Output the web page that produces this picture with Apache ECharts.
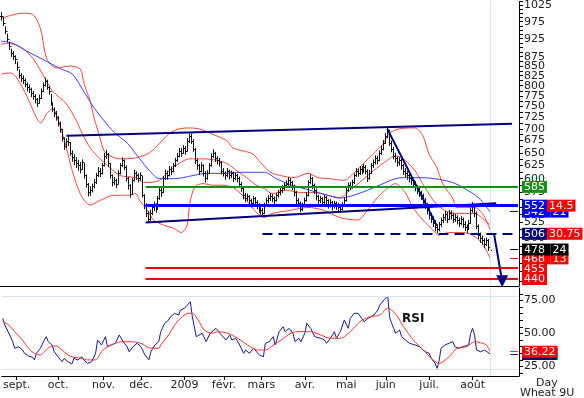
<!DOCTYPE html>
<html>
<head>
<meta charset="utf-8">
<script src="https://cdn.jsdelivr.net/npm/echarts@6/dist/echarts.min.js"></script>
<style>
  html, body { margin: 0; background: #fff; }
  #main { width: 584px; height: 398px; }
</style>
</head>
<body>
<div id="main"></div>
<script>
// CBOT wheat, contract 9U, daily bars Aug 2008 - Aug 2009
const holidays = ['2008-09-01', '2008-11-27', '2008-12-25', '2009-01-01', '2009-01-19',
  '2009-02-16', '2009-04-10', '2009-05-25', '2009-07-03', '2009-09-07'];
const moisFr = ['janv.', 'févr.', 'mars', 'avr.', 'mai', 'juin', 'juil.', 'août', 'sept.', 'oct.', 'nov.', 'déc.'];

const closes = [991,970,947,924,904,885,876,868,847,827,
  820,815,804,797,792,782,775,768,758,770,
  787,802,812,797,787,758,745,735,727,713,
  700,681,664,675,673,650,641,635,629,625,
  619,631,606,591,575,579,586,593,606,615,
  611,625,644,648,629,606,593,597,591,611,
  625,635,623,601,588,573,597,611,606,601,
  606,570,553,540,530,540,549,553,547,565,
  579,575,601,611,606,619,615,625,635,644,
  654,650,660,654,675,685,675,658,635,625,
  615,625,611,601,611,625,644,650,639,635,
  631,615,611,606,615,606,610,601,606,601,
  591,583,570,565,568,561,556,565,558,553,
  547,544,540,553,561,565,568,565,561,570,
  575,579,583,588,591,597,593,586,575,561,
  556,547,553,561,570,593,601,588,579,568,
  561,565,558,567,561,554,558,551,556,553,
  549,547,554,561,579,588,586,593,606,615,
  611,619,615,623,615,601,611,625,631,639,
  635,650,658,671,685,696,671,658,644,639,
  631,635,625,615,611,606,601,597,591,584,
  579,575,570,561,553,544,536,530,524,517,
  514,521,528,533,538,530,540,536,530,533,
  528,524,530,522,517,514,524,544,553,540,
  519,504,499,496,491,496,486,481];

const highs = [1004,989,961,940,916,897,890,879,862,841,
  831,826,818,808,803,795,787,779,770,778,
  793,808,820,815,800,780,760,748,740,728,
  716,700,682,680,686,672,655,647,641,636,
  632,637,630,608,592,586,591,599,611,622,
  620,630,650,656,650,630,608,603,600,616,
  630,641,637,625,603,590,601,617,614,610,
  612,605,572,556,543,545,554,559,556,569,
  584,583,605,617,615,624,623,630,640,650,
  660,660,666,664,680,693,690,678,660,638,
  628,631,627,614,616,630,649,657,652,643,
  640,633,620,614,620,617,615,613,611,609,
  604,594,586,574,573,570,564,569,567,561,
  556,551,548,557,566,570,574,572,568,574,
  580,584,588,593,597,603,601,596,589,578,
  565,559,557,566,575,597,608,603,591,582,
  571,569,567,571,569,563,563,560,560,559,
  557,553,558,566,583,593,594,598,610,620,
  619,624,624,628,626,618,616,630,637,645,
  644,655,665,676,691,704,698,675,662,650,
  643,641,638,628,620,615,610,605,600,595,
  588,583,578,573,565,557,548,540,534,528,
  521,525,532,538,543,541,545,544,540,538,
  536,532,534,532,526,521,528,549,558,555,
  542,521,508,503,499,500,498,490];

const lows = [978,962,938,915,893,874,866,855,838,818,
  809,804,796,786,782,772,766,757,749,757,
  768,785,798,790,778,752,738,726,718,705,
  692,673,656,660,664,644,632,626,620,615,
  610,617,600,584,568,569,575,582,590,603,
  603,608,623,638,622,600,586,588,583,590,
  608,622,616,595,580,566,572,595,598,593,
  596,566,546,533,524,527,536,543,540,546,
  562,567,574,598,598,604,607,612,622,632,
  641,642,648,646,652,670,668,652,628,617,
  607,612,604,593,598,609,623,640,632,627,
  623,608,604,598,603,599,601,594,597,593,
  584,576,563,558,560,554,549,553,551,546,
  540,537,533,538,550,556,560,558,554,559,
  566,570,574,579,583,587,585,579,568,555,
  549,541,543,550,559,568,590,581,572,561,
  554,556,551,555,554,547,549,544,547,545,
  542,540,544,551,559,576,579,582,590,603,
  604,607,608,611,608,594,598,609,620,627,
  627,633,646,655,668,680,664,651,637,631,
  623,625,617,607,603,598,593,589,583,577,
  572,567,562,554,546,537,529,523,517,510,
  507,510,517,523,527,523,528,529,523,525,
  521,517,520,515,510,507,512,522,540,533,
  513,498,492,489,484,487,480,475];

// indicator lines: [session index, value]
const maBlue = [[0,918],[6,912],[13,890],[21,868],[30,843],[36,829],[41,792],[47,747],[52,718],[57,693],
  [64,669],[68,648],[70,638],[75,615],[80,600],[87,600],[92,602],[97,606],[104,610],[112,610],
  [121,612],[129,612],[133,612],[139,600],[147,588],[156,579],[165,570],[171,565],[178,570],[185,579],
  [191,588],[199,600],[203,602],[211,602],[219,600],[228,593],[234,582],[241,566],[247,541]];
const bbUpper = [[0,985],[11,1001],[16,997],[20,953],[23,871],[28,845],[35,850],[40,842],[42,804],[45,763],
  [47,724],[50,681],[52,654],[55,644],[60,638],[68,640],[75,650],[80,669],[85,690],[90,700],
  [95,702],[100,700],[106,690],[111,681],[114,675],[117,660],[122,654],[127,648],[131,631],[136,612],
  [141,606],[148,602],[155,610],[160,602],[166,600],[173,597],[178,610],[183,629],[188,648],[193,669],
  [196,690],[201,700],[209,702],[213,685],[216,648],[220,621],[223,591],[228,565],[230,549],[234,549],
  [239,549],[243,539],[247,512]];
const bbMiddle = [[0,909],[3,912],[10,901],[16,871],[21,829],[26,787],[33,756],[38,718],[41,690],[45,660],
  [50,638],[55,621],[60,606],[68,602],[72,593],[75,593],[80,597],[85,615],[90,629],[95,638],
  [102,638],[109,635],[114,629],[119,615],[124,602],[129,588],[133,582],[137,573],[144,579],[151,575],
  [158,575],[165,570],[171,566],[176,579],[181,593],[188,615],[195,635],[199,644],[204,635],[209,615],
  [214,584],[219,558],[224,544],[229,539],[234,539],[239,539],[244,528],[247,520]];
const bbLower = [[0,829],[5,832],[8,819],[13,775],[18,724],[20,713],[23,733],[26,745],[29,718],[31,690],
  [33,660],[36,615],[40,573],[45,553],[50,561],[57,570],[64,570],[68,573],[70,561],[74,544],
  [77,528],[82,520],[87,515],[91,508],[94,520],[95,549],[97,579],[99,588],[102,591],[107,588],
  [112,588],[117,584],[121,573],[124,561],[128,544],[133,532],[137,539],[146,544],[155,549],[163,544],
  [171,532],[180,528],[185,544],[190,566],[195,582],[199,591],[204,575],[208,549],[213,528],[218,512],
  [221,504],[226,508],[233,508],[238,504],[243,491],[247,469]];

const rsi = [[0,61.5],[1,56.4],[3,50.4],[5,43.8],[6,38.8],[8,40],[10,37.5],[11,35],[13,33],[15,32],
  [16,30],[17,35],[19,38.8],[21,45],[22,47.6],[23,43.8],[25,41.3],[26,36.2],[28,32.4],[30,28.6],
  [31,31.2],[33,28.6],[35,26.9],[36,31.2],[38,29.9],[40,32.4],[41,30],[43,27.4],[45,28.6],[47,35],
  [48,45],[50,41.3],[52,47.6],[53,40],[55,41.3],[57,42.6],[59,48.9],[61,43.8],[63,40],[64,36.2],
  [66,40],[68,42.6],[70,40],[72,33.7],[74,30],[75,36.2],[77,41.3],[79,43.8],[80,51.4],[82,57.7],
  [84,60.2],[85,62.7],[87,65.3],[89,64],[90,67.8],[92,69.1],[95,74.1],[96,62.7],[97,64],[98,47.6],
  [99,48.9],[101,50.2],[102,48.9],[103,43.8],[105,50.2],[106,51.4],[108,53.9],[110,50.2],[111,48.9],[113,45.1],
  [115,48.9],[116,45.1],[118,46.4],[120,41.3],[122,35],[123,37.5],[125,35],[127,38.8],[128,37.5],[130,33.7],
  [132,32.4],[133,42.6],[135,43.8],[137,47.6],[138,41.3],[140,51.4],[142,55.2],[143,51.4],[145,53.9],[147,50.2],
  [148,43.8],[150,46.4],[151,43.8],[153,50.2],[154,57.7],[156,53.9],[158,47.6],[159,46.4],[161,46.4],[163,45.1],
  [164,42.6],[166,46.4],[168,51.4],[169,46.4],[171,51.4],[173,60.2],[175,53.9],[176,61.5],[178,65.3],[180,65.3],
  [181,64],[183,58.9],[185,61.5],[186,61.5],[188,64],[190,67.8],[191,71.6],[193,75.4],[195,78.4],[196,62],
  [197,57.7],[198,53.9],[199,50.2],[201,52.7],[202,47.6],[204,45.1],[206,42.6],[207,41.3],[209,41.3],[211,40],
  [212,38.8],[214,36.2],[216,35],[217,31.2],[219,27.4],[220,23.6],[221,29],[222,38.8],[224,41.3],[226,42.6],
  [228,43.8],[229,40],[231,38.8],[233,40],[234,38.8],[236,41.3],[237,50],[238,53.9],[239,48.9],[240,37.5],
  [242,36.2],[244,37.5],[245,36.2],[247,34.4]];
const rsiMa = [[0,59],[3,56.4],[6,51.4],[10,45],[13,38.8],[16,35],[19,33.7],[21,36.2],[25,40.5],[27,40.5],
  [30,37.5],[33,33.7],[36,32],[40,31.2],[43,30],[47,30],[50,36.2],[53,40],[57,42.6],[60,43.8],
  [65,43.8],[70,42.6],[75,38.8],[79,38.8],[80,41.3],[84,48.9],[87,56.4],[90,61.5],[94,65.3],[96,65.3],
  [99,60.2],[102,52.7],[106,50.2],[109,51.4],[114,50.2],[119,46.4],[124,41.3],[129,37.5],[133,37.5],[136,40],
  [141,45],[146,50.2],[149,51.4],[156,51.4],[161,48.9],[166,46.4],[171,46.4],[176,51.4],[181,59],[186,62.7],
  [191,64],[195,69.1],[197,67.8],[200,62.7],[203,55.2],[208,45.1],[213,37.5],[218,30],[221,27.4],[223,28.6],
  [227,33.7],[230,38.8],[235,40],[239,43.8],[242,43],[245,41.3],[247,36.22]];

// drawn annotations: [session index, price]
const channelTop = [[33, 685], [258, 711]];
const channelBottom = [[73, 524], [250, 556]];
const downTrend = [[195, 700], [220, 519]];
const arrowDown = [[249, 504], [253, 437]];

const priceLabels = [1025, 975, 925, 875, 850, 825, 800, 775, 750, 725, 700, 675, 650, 625, 600, 575, 550, 525, 500, 475, 450];
const rsiLabels = [25, 50, 75];

// trading sessions
const dates = [];
let day = new Date(Date.UTC(2008, 7, 21));
while (dates.length < 262) {
  const wd = day.getUTCDay();
  const s = day.toISOString().slice(0, 10);
  if (wd !== 0 && wd !== 6 && holidays.indexOf(s) < 0) dates.push(s);
  day = new Date(day.getTime() + 86400000);
}
const lastBar = closes.length - 1;
const monthStart = i => i > 0 && i <= lastBar && dates[i].slice(5, 7) !== dates[i - 1].slice(5, 7);
const monthLabel = s => { const m = +s.slice(5, 7); return m === 1 ? s.slice(0, 4) : moisFr[m - 1]; };

const L = Math.log;
const logPairs = arr => arr.map(p => [p[0], L(p[1])]);
const font = 'DejaVu Sans';
const last = dates.length - 1;

const priceTicks = [];
for (let v = 437.5; v <= 1037.5; v += 12.5) priceTicks.push(L(v));
const rsiTicks = [];
for (let v = 20; v <= 80; v += 5) rsiTicks.push(v);

const box = bg => ({ backgroundColor: bg, color: '#fff', fontFamily: font, fontSize: 11, padding: [1, 2, 0, 2], lineHeight: 12 });
const rich = { g: box('#17901a'), b: box('#0000ff'), n: box('#000080'), k: box('#000'), r: box('#ff0000') };

function seg(a, b, color, width, type) {
  return [{ coord: [a[0], L(a[1])], lineStyle: { color: color, width: width, type: type || 'solid' } },
          { coord: [b[0], L(b[1])] }];
}
function level(p, from, color, width, text, type) {
  return [{ coord: [from, L(p)], lineStyle: { color: color, width: width, type: type || 'solid' },
            label: { show: !!text, position: 'end', distance: 4, formatter: text, rich: rich } },
          { coord: [last, L(p)] }];
}

const bars = closes.map((c, i) => [i, L(highs[i]), L(lows[i]), L(c), L(i ? closes[i - 1] : c)]);

function renderBar(params, api) {
  const i = api.value(0);
  const h = api.coord([i, api.value(1)]);
  const l = api.coord([i, api.value(2)]);
  const c = api.coord([i, api.value(3)]);
  const o = api.coord([i, api.value(4)]);
  const x = Math.round(h[0]) + 0.5;
  const st = { stroke: '#111', lineWidth: 1 };
  return { type: 'group', children: [
    { type: 'line', shape: { x1: x, y1: h[1], x2: x, y2: l[1] }, style: st },
    { type: 'line', shape: { x1: x, y1: Math.round(c[1]) + 0.5, x2: x + 1.5, y2: Math.round(c[1]) + 0.5 }, style: st },
    { type: 'line', shape: { x1: x - 1.5, y1: Math.round(o[1]) + 0.5, x2: x, y2: Math.round(o[1]) + 0.5 }, style: st }
  ] };
}

const thinLine = (name, data, color, xi, yi, extra) => Object.assign({
  name: name, type: 'line', data: data, xAxisIndex: xi, yAxisIndex: yi, symbol: 'none',
  smooth: 0.3, connectNulls: true, lineStyle: { color: color, width: 1 }, z: 2, silent: true
}, extra || {});

const axisText = { color: '#222', fontFamily: font, fontSize: 11 };
const paleLine = { color: '#d6e4ef', width: 1, type: 'solid' };

const chart = echarts.init(document.getElementById('main'));
chart.setOption({
  animation: false,
  backgroundColor: '#fff',
  grid: [
    { left: 0, right: 65, top: 0, height: 286 },
    { left: 0, right: 65, top: 288, height: 88 }
  ],
  xAxis: [
    { type: 'category', gridIndex: 0, data: dates, boundaryGap: true,
      axisLine: { show: true, lineStyle: { color: '#000' } }, axisTick: { show: false },
      axisLabel: { show: false }, splitLine: { show: false } },
    { type: 'category', gridIndex: 1, data: dates, boundaryGap: true,
      axisLine: { show: true, lineStyle: { color: '#000' } },
      axisTick: { show: true, alignWithLabel: true, length: 4, interval: i => monthStart(i), lineStyle: { color: '#000' } },
      axisLabel: Object.assign({ interval: i => monthStart(i), margin: 4, formatter: monthLabel }, axisText),
      splitLine: { show: false } }
  ],
  yAxis: [
    { type: 'value', gridIndex: 0, position: 'right', min: L(430.6), max: L(1038.3),
      axisLine: { show: true, lineStyle: { color: '#000' } },
      axisTick: { show: true, customValues: priceTicks, length: 4, lineStyle: { color: '#000' } },
      axisLabel: Object.assign({ customValues: priceLabels.map(L), margin: 5,
        formatter: v => String(Math.round(Math.exp(v))) }, axisText),
      splitLine: { show: false } },
    { type: 'value', gridIndex: 1, position: 'right', min: 17.8, max: 84.5,
      axisLine: { show: true, lineStyle: { color: '#000' } },
      axisTick: { show: true, customValues: rsiTicks, length: 4, lineStyle: { color: '#000' } },
      axisLabel: Object.assign({ customValues: rsiLabels, margin: 5, formatter: v => v.toFixed(2) }, axisText),
      splitLine: { show: false } }
  ],
  graphic: [
    { type: 'text', left: 402, top: 313, style: { text: 'RSI', fill: '#111', font: 'bold 12px "DejaVu Sans"' } },
    { type: 'text', left: 536, top: 378, style: { text: 'Day', fill: '#222', font: '11px "DejaVu Sans"' } },
    { type: 'text', left: 520, top: 388, style: { text: 'Wheat 9U', fill: '#222', font: '11px "DejaVu Sans"' } }
  ],
  series: [
    thinLine('BB haut', logPairs(bbUpper), '#ff4040', 0, 0),
    thinLine('BB milieu', logPairs(bbMiddle), '#ff4040', 0, 0),
    thinLine('BB bas', logPairs(bbLower), '#ff4040', 0, 0),
    thinLine('Moyenne', logPairs(maBlue), '#3c3cff', 0, 0),
    { name: 'Wheat 9U', type: 'custom', xAxisIndex: 0, yAxisIndex: 0, data: bars, renderItem: renderBar,
      encode: { x: 0, y: [1, 2] }, z: 3, silent: true },
    { name: 'niveaux', type: 'line', xAxisIndex: 0, yAxisIndex: 0, data: [[0, L(closes[0])]],
      symbol: 'none', lineStyle: { width: 0 }, z: 5, silent: true,
      markLine: { silent: true, symbol: ['none', 'none'], animation: false, label: { show: false },
        data: [
          { xAxis: lastBar, lineStyle: paleLine, label: { show: false } },
          seg(channelTop[0], channelTop[1], '#000080', 2),
          seg(channelBottom[0], channelBottom[1], '#000080', 2),
          seg(downTrend[0], downTrend[1], '#000080', 2),
          level(440, 73, '#ff0000', 2, '{r|440}'),
          level(455, 73, '#ff0000', 2, '{r|455}'),
          level(469, 257, '#ff0000', 1, '{r|468 }{r|13}'),
          level(482, 257, '#000', 1, '{k|478 }{k|24}'),
          level(506, 132, '#000080', 2, '{n|506}{r|30.75}', [10, 6]),
          level(542, 257, '#0000ff', 1, '{b|542 }{b|21}'),
          level(552, 73, '#0000ff', 3, '{b|552}{r|14.5}'),
          level(585, 73, '#17901a', 2, '{g|585}'),
          [{ coord: [arrowDown[0][0], L(arrowDown[0][1])], symbol: 'none',
             lineStyle: { color: '#000080', width: 2, type: 'solid' } },
           { coord: [arrowDown[1][0], L(arrowDown[1][1])], symbol: 'triangle', symbolSize: [12, 12], symbolRotate: 180 }]
        ] } },
    thinLine('RSI', rsi, '#1c1c8c', 1, 1, { smooth: false, z: 3,
      markLine: { silent: true, symbol: ['none', 'none'], animation: false, label: { show: false },
        data: [
          { yAxis: 78.5, lineStyle: paleLine },
          { yAxis: 23, lineStyle: paleLine },
          { xAxis: lastBar, lineStyle: paleLine },
          [{ coord: [257, 34.4], lineStyle: { color: '#1c1c8c', width: 1, type: 'solid' },
             label: { show: true, position: 'end', distance: 4, formatter: '{n|34.40}', rich: rich } },
           { coord: [last, 34.4] }]
        ] } }),
    thinLine('RSI moy.', rsiMa, '#ff3030', 1, 1, { z: 4,
      markLine: { silent: true, symbol: ['none', 'none'], animation: false,
        data: [
          [{ coord: [257, 36.22], lineStyle: { color: '#ff3030', width: 1, type: 'solid' },
             label: { show: true, position: 'end', distance: 4, formatter: '{r|36.22}', rich: rich } },
           { coord: [last, 36.22] }]
        ] } })
  ]
});
</script>
</body>
</html>
